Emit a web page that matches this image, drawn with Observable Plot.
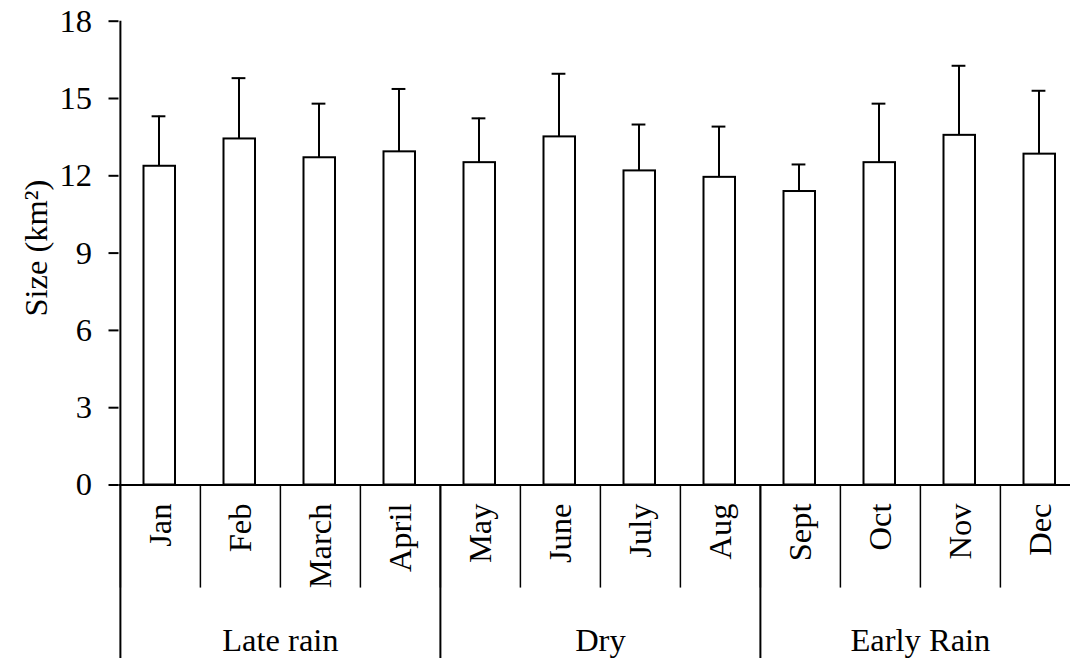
<!DOCTYPE html>
<html>
<head>
<meta charset="utf-8">
<script src="https://cdn.jsdelivr.net/npm/d3@7"></script>
<script src="https://cdn.jsdelivr.net/npm/@observablehq/plot@0.6"></script>
<style>
  html, body { margin: 0; padding: 0; background: #fff; }
</style>
</head>
<body>
<div id="chart"></div>
<script>
const months = ["Jan","Feb","March","April","May","June","July","Aug","Sept","Oct","Nov","Dec"];
const seasons = ["Late rain","Late rain","Late rain","Late rain","Dry","Dry","Dry","Dry","Early Rain","Early Rain","Early Rain","Early Rain"];
const sizes = [12.37, 13.43, 12.70, 12.93, 12.51, 13.51, 12.19, 11.94, 11.39, 12.51, 13.57, 12.84];
const errors = [1.94, 2.36, 2.10, 2.44, 1.72, 2.45, 1.80, 1.97, 1.05, 2.29, 2.70, 2.46];
const yTicks = [0, 3, 6, 9, 12, 15, 18];
const groupNames = ["Late rain", "Dry", "Early Rain"];

const data = months.map((m, i) => ({month: m, season: seasons[i], size: sizes[i], upper: sizes[i] + errors[i]}));
const groupStarts = groupNames.map(g => months[seasons.indexOf(g)]);
const groupMids = groupNames.map(g => {
  const idx = seasons.map((s, i) => s === g ? i : -1).filter(i => i >= 0);
  return {name: g, month: months[idx[Math.floor(idx.length / 2)]]};
});

const W = 1070, H = 658;
const pLeft = 118.5, pRight = 1081, pTop = 20.7, pBottom = 484.5;
const bw = (pRight - pLeft) / months.length;
const font = "Liberation Serif, Times New Roman, serif";
const fs = 32.5;

const chart = Plot.plot({
  width: W,
  height: H,
  marginLeft: pLeft,
  marginRight: 0,
  marginTop: pTop,
  marginBottom: H - pBottom,
  style: {fontFamily: font, fontSize: fs + "px", background: "#fff", color: "#000"},
  x: {type: "band", domain: months, range: [pLeft, pRight], padding: 0, axis: null},
  y: {domain: [0, 18], range: [pBottom, pTop], axis: null},
  marks: [
    Plot.barY(data, {x: "month", y: "size", fill: "#fff", stroke: "#000", strokeWidth: 2, insetLeft: 23.5, insetRight: 25}),
    Plot.ruleX(data, {x: "month", y1: "size", y2: "upper", stroke: "#000", strokeWidth: 2, dx: -1.5}),
    Plot.tickY(data, {x: "month", y: "upper", stroke: "#000", strokeWidth: 2, insetLeft: (bw - 14) / 2 - 1.5, insetRight: (bw - 14) / 2 + 1.5}),
    Plot.ruleX([months[0]], {y1: 0, y2: 18, stroke: "#000", strokeWidth: 2, dx: -bw / 2}),
    Plot.ruleY([0], {stroke: "#000", strokeWidth: 2}),
    Plot.axisY({ticks: yTicks, tickSize: 10, tickPadding: 17, strokeWidth: 2, fontSize: fs, label: null}),
    Plot.ruleX(months, {y1: 0, y2: -4.0, stroke: "#000", strokeWidth: 1.5, dx: -bw / 2}),
    Plot.ruleX(groupStarts, {y1: 0, y2: -6.9, stroke: "#000", strokeWidth: 2, dx: -bw / 2}),
    Plot.text(months, {x: d => d, text: d => d, frameAnchor: "bottom", dy: 18.5, rotate: -90, textAnchor: "end", lineAnchor: "middle", fontSize: fs, fill: "#000"}),
    Plot.text(groupMids, {x: "month", text: "name", frameAnchor: "bottom", dx: -bw / 2, dy: 165.5, lineAnchor: "bottom", textAnchor: "middle", fontSize: fs, fill: "#000"}),
    Plot.text(["Size (km²)"], {text: d => d, frameAnchor: "left", dx: -72, dy: -5, rotate: -90, textAnchor: "middle", lineAnchor: "bottom", fontSize: fs, fill: "#000"})
  ]
});
document.getElementById("chart").appendChild(chart);
</script>
</body>
</html>
